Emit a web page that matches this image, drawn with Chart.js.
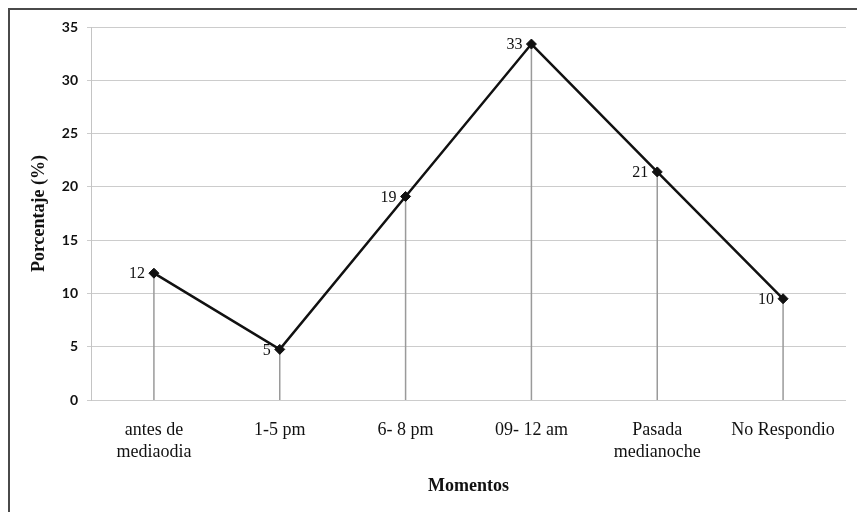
<!DOCTYPE html>
<html>
<head>
<meta charset="utf-8">
<script src="https://cdn.jsdelivr.net/npm/chart.js@4"></script>
<style>
  html, body { margin: 0; padding: 0; background: #fff; }
  #wrap { position: relative; width: 857px; height: 512px; overflow: hidden; }
  #frame { position: absolute; left: 8px; top: 8px; width: 900px; height: 600px;
           border-left: 2px solid #4a4a4a; border-top: 2px solid #4a4a4a; pointer-events: none; }
  canvas { position: absolute; left: 0; top: 0; }
</style>
</head>
<body>
<div id="wrap">
  <canvas id="c" width="857" height="512"></canvas>
  <div id="frame"></div>
</div>
<script>
const categories = [["antes de", "mediaodia"], "1-5 pm", "6- 8 pm", "09- 12 am", ["Pasada", "medianoche"], "No Respondio"];
const values = [11.9, 4.75, 19.1, 33.4, 21.4, 9.5];
const yTicks = [0, 5, 10, 15, 20, 25, 30, 35];
const xTitle = "Momentos";
const yTitle = "Porcentaje (%)";

const dropLines = {
  id: 'dropLines',
  beforeDatasetsDraw(chart) {
    const ctx = chart.ctx;
    const y0 = chart.scales.y.getPixelForValue(0);
    const meta = chart.getDatasetMeta(0);
    ctx.save();
    ctx.strokeStyle = '#9a9a9a';
    ctx.lineWidth = 1.5;
    meta.data.forEach(p => {
      ctx.beginPath();
      ctx.moveTo(p.x, p.y);
      ctx.lineTo(p.x, y0);
      ctx.stroke();
    });
    ctx.restore();
  }
};

const dataLabels = {
  id: 'dataLabels',
  afterDatasetsDraw(chart) {
    const ctx = chart.ctx;
    const meta = chart.getDatasetMeta(0);
    ctx.save();
    ctx.fillStyle = '#111';
    ctx.font = '16px "Liberation Serif", serif';
    ctx.textAlign = 'right';
    ctx.textBaseline = 'middle';
    meta.data.forEach((p, i) => {
      ctx.fillText(String(Math.round(values[i])), p.x - 9, p.y + 1);
    });
    ctx.restore();
  }
};

new Chart(document.getElementById('c'), {
  type: 'line',
  data: {
    labels: categories,
    datasets: [{
      data: values,
      borderColor: '#111',
      borderWidth: 2.5,
      pointStyle: 'rectRot',
      pointRadius: 5,
      pointBackgroundColor: '#111',
      pointBorderColor: '#111',
      pointBorderWidth: 1,
      tension: 0
    }]
  },
  options: {
    responsive: false,
    animation: false,
    devicePixelRatio: 1,
    layout: { padding: { left: 0, right: 11, top: 27, bottom: 0 } },
    plugins: { legend: { display: false }, tooltip: { enabled: false } },
    scales: {
      x: {
        offset: true,
        grid: { display: false, drawTicks: false },
        border: { display: false },
        ticks: {
          color: '#111',
          padding: 19,
          maxRotation: 0,
          autoSkip: false,
          font: { family: '"Liberation Serif", serif', size: 18, lineHeight: 1.22 }
        },
        title: {
          display: true,
          text: xTitle,
          color: '#111',
          padding: { top: 0, bottom: 15 },
          font: { family: '"Liberation Serif", serif', size: 18, weight: 'bold', lineHeight: 1.2 }
        },
        afterFit(s) { s.height = 112; }
      },
      y: {
        min: 0,
        max: 35,
        afterBuildTicks(s) { s.ticks = yTicks.map(v => ({ value: v })); },
        grid: { color: '#cccccc', lineWidth: 1, drawTicks: true, tickLength: 4 },
        border: { display: true, color: '#c4c4c4', width: 1 },
        ticks: {
          color: '#111',
          padding: 9,
          font: { family: 'Lato, sans-serif', size: 14, weight: 'bold' }
        },
        title: {
          display: true,
          text: yTitle,
          color: '#111',
          padding: { top: 29, bottom: 0 },
          font: { family: '"Liberation Serif", serif', size: 18, weight: 'bold', lineHeight: 1.2 }
        },
        afterFit(s) { s.width = 91; }
      }
    }
  },
  plugins: [dropLines, dataLabels]
});
</script>
</body>
</html>
